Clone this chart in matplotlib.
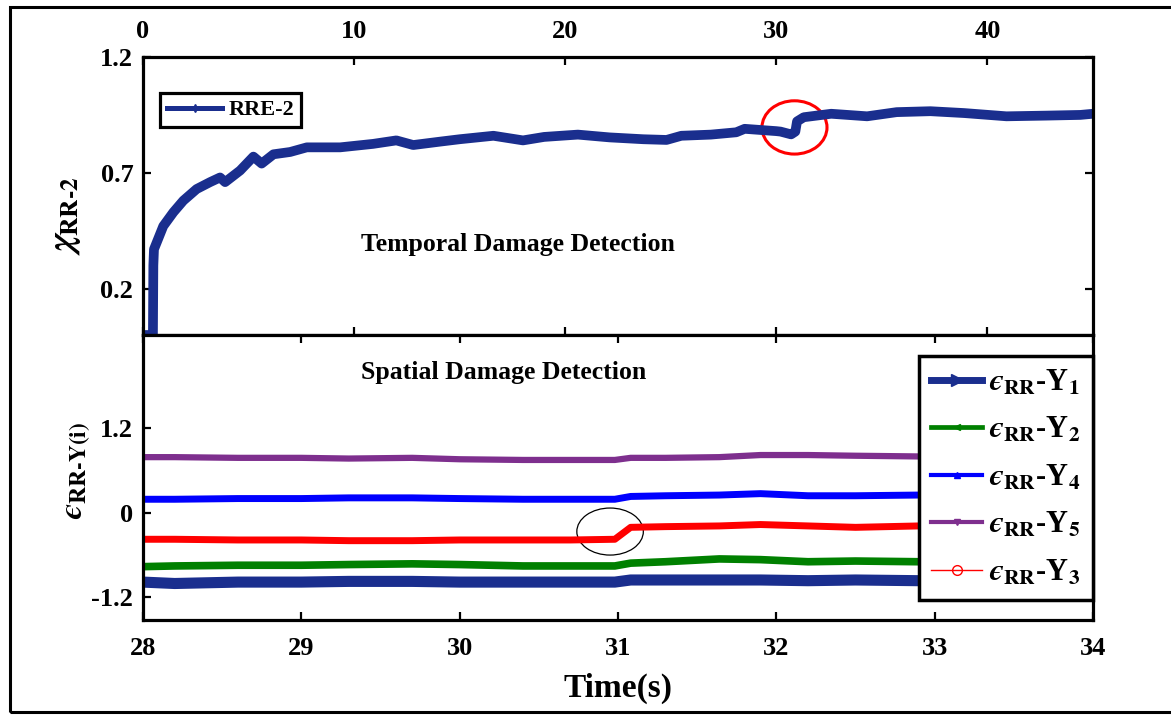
import matplotlib
matplotlib.use("Agg")
import matplotlib.pyplot as plt
from matplotlib.patches import Ellipse, Rectangle

# Temporal damage index RRE-2 over the whole record
t_rre = [0, 0.47, 0.49, 0.52, 0.96, 1.44, 1.91, 2.54, 3.18, 3.65, 3.89, 4.6, 5.23,
         5.62, 6.18, 6.97, 7.76, 9.34, 10.9, 12.0, 12.8, 14.1, 15.0, 16.6, 18.0,
         19.0, 20.6, 22.1, 23.7, 24.8, 25.5, 26.9, 28.1, 28.5, 30.0, 30.2, 30.7,
         30.9, 30.98, 31.3, 32.6, 34.3, 35.7, 37.3, 38.9, 40.9, 42.8, 44.4, 45]
chi_rre = [0, 0, 0.30, 0.37, 0.47, 0.53, 0.58, 0.63, 0.66, 0.68, 0.66, 0.71, 0.77,
           0.74, 0.78, 0.79, 0.81, 0.81, 0.825, 0.84, 0.82, 0.835, 0.845, 0.86, 0.84,
           0.855, 0.865, 0.853, 0.845, 0.842, 0.86, 0.865, 0.875, 0.89, 0.88, 0.878,
           0.866, 0.878, 0.922, 0.94, 0.955, 0.944, 0.962, 0.966, 0.958, 0.944,
           0.947, 0.95, 0.955]

# Spatial indices per sensor, zoomed 28-34 s
t_sp = [28, 28.2, 28.6, 29.0, 29.3, 29.7, 30.0, 30.4, 30.7, 30.98, 31.08, 31.3,
        31.64, 31.9, 32.2, 32.5, 32.9, 33.3, 33.7, 34.0]
eps_y1 = [-0.99, -1.01, -0.99, -0.99, -0.98, -0.98, -0.99, -0.99, -0.99, -0.99,
          -0.96, -0.96, -0.96, -0.96, -0.97, -0.96, -0.97, -0.97, -0.96, -0.96]
eps_y2 = [-0.77, -0.76, -0.75, -0.75, -0.74, -0.73, -0.74, -0.76, -0.76, -0.76,
          -0.72, -0.70, -0.66, -0.67, -0.70, -0.69, -0.70, -0.69, -0.68, -0.69]
eps_y4 = [0.19, 0.19, 0.20, 0.20, 0.21, 0.21, 0.20, 0.19, 0.19, 0.19,
          0.23, 0.24, 0.25, 0.27, 0.24, 0.24, 0.25, 0.25, 0.25, 0.25]
eps_y5 = [0.79, 0.79, 0.78, 0.78, 0.77, 0.78, 0.76, 0.75, 0.75, 0.75,
          0.78, 0.78, 0.79, 0.82, 0.82, 0.81, 0.80, 0.80, 0.80, 0.80]
eps_y3 = [-0.38, -0.38, -0.39, -0.39, -0.40, -0.40, -0.39, -0.39, -0.39, -0.38,
          -0.21, -0.20, -0.19, -0.17, -0.19, -0.21, -0.19, -0.18, -0.18, -0.17]

NAVY = "#1a2e8e"
plt.rcParams["font.family"] = ["Liberation Serif", "DejaVu Serif"]
plt.rcParams["font.weight"] = "bold"
plt.rcParams["mathtext.fontset"] = "stix"

W, H = 1171, 717
fig = plt.figure(figsize=(W / 100, H / 100), dpi=100)


def box(x0, y0, x1, y1):
    return [x0 / W, 1 - y1 / H, (x1 - x0) / W, (y1 - y0) / H]


ax1 = fig.add_axes(box(143, 57, 1093, 335))
ax2 = fig.add_axes(box(143, 335, 1093, 620))

for ax in (ax1, ax2):
    for sp in ax.spines.values():
        sp.set_linewidth(2.3)
    ax.tick_params(direction="in", length=6, width=1.6, labelsize=19,
                   top=True, right=True)

# --- temporal plot ---
ax1.plot(t_rre, chi_rre, color=NAVY, lw=7, solid_joinstyle="round")
ax1.plot([], [], color=NAVY, lw=3.6, marker="d", ms=4, label="RRE-2")
ax1.set_xlim(0, 45)
ax1.set_ylim(0, 1.2)
ax1.set_xticks([0, 10, 20, 30, 40])
ax1.set_yticks([0.2, 0.7, 1.2])
ax1.tick_params(axis="x", labeltop=True, labelbottom=False, pad=10)
ax1.tick_params(axis="y", pad=7)
ax1.set_ylabel(r"$\chi_{\mathbf{RR\text{-}2}}$", fontsize=26)
ax1.yaxis.set_label_coords(-0.063, 0.43)
ax1.text(0.395, 0.324, "Temporal Damage Detection", transform=ax1.transAxes,
         ha="center", va="center", fontsize=18.5, fontweight="bold")
ax1.add_patch(Ellipse((30.86, 0.896), 3.08, 0.23, fill=False, ec="red", lw=2.2))
leg1 = ax1.legend(loc="upper left", bbox_to_anchor=(0.018, 0.87), borderaxespad=0,
                  fontsize=16, handlelength=2.5, handletextpad=0.3, fancybox=False,
                  framealpha=1, edgecolor="black", borderpad=0.3)
leg1.get_frame().set_linewidth(2.3)

# --- spatial plot ---
series = [
    (eps_y1, NAVY, 8, 5, ">", 8, "1"),
    (eps_y2, "#008000", 5.5, 3.4, "<", 5, "2"),
    (eps_y4, "#0000ff", 5, 3, "^", 5, "4"),
    (eps_y5, "#7e2f8e", 4.5, 3, "v", 5, "5"),
    (eps_y3, "#ff0000", 5, 1, "o", 7, "3"),
]
for vals, col, band, lw, mk, ms, idx in series:
    ax2.plot(t_sp, vals, color=col, lw=band)
    face = "none" if mk == "o" else col
    lab = "$\u03f5_{\\mathbf{RR}}$-Y$_{\\mathbf{%s}}$" % idx
    ax2.plot([], [], color=col, lw=lw, marker=mk, ms=ms, mfc=face,
             mec=col, label=lab)

ax2.set_xlim(28, 34)
ax2.set_ylim(-1.53, 2.53)
ax2.set_xticks(range(28, 35))
ax2.set_yticks([-1.2, 0, 1.2])
ax2.set_yticklabels(["-1.2", "0", "1.2"])
ax2.tick_params(axis="x", pad=12)
ax2.tick_params(axis="y", pad=7)
ax2.set_ylabel("$\u03f5_{\\mathbf{RR\\text{-}Y(i)}}$", fontsize=24)
ax2.yaxis.set_label_coords(-0.053, 0.526)
ax2.set_xlabel("Time(s)", fontsize=24, fontweight="bold")
ax2.xaxis.set_label_coords(0.5, -0.185)
ax2.text(0.38, 0.867, "Spatial Damage Detection", transform=ax2.transAxes,
         ha="center", va="center", fontsize=18.5, fontweight="bold")
ax2.add_patch(Ellipse((30.95, -0.27), 0.42, 0.67, fill=False, ec="black", lw=0.9))
leg2 = ax2.legend(loc="upper right", bbox_to_anchor=(1.0, 0.926), borderaxespad=0,
                  fontsize=22, handlelength=1.65, handletextpad=0.25, fancybox=False,
                  framealpha=1, edgecolor="black", labelspacing=0.6, borderpad=0.4)
leg2.get_frame().set_linewidth(2.5)

# frame around the whole figure
fig.patches.append(Rectangle((10 / W, 1 - 712 / H), 1.2, (712 - 7) / H,
                             transform=fig.transFigure, fill=False,
                             ec="black", lw=2.2))

fig.savefig("out.png", dpi=100)
